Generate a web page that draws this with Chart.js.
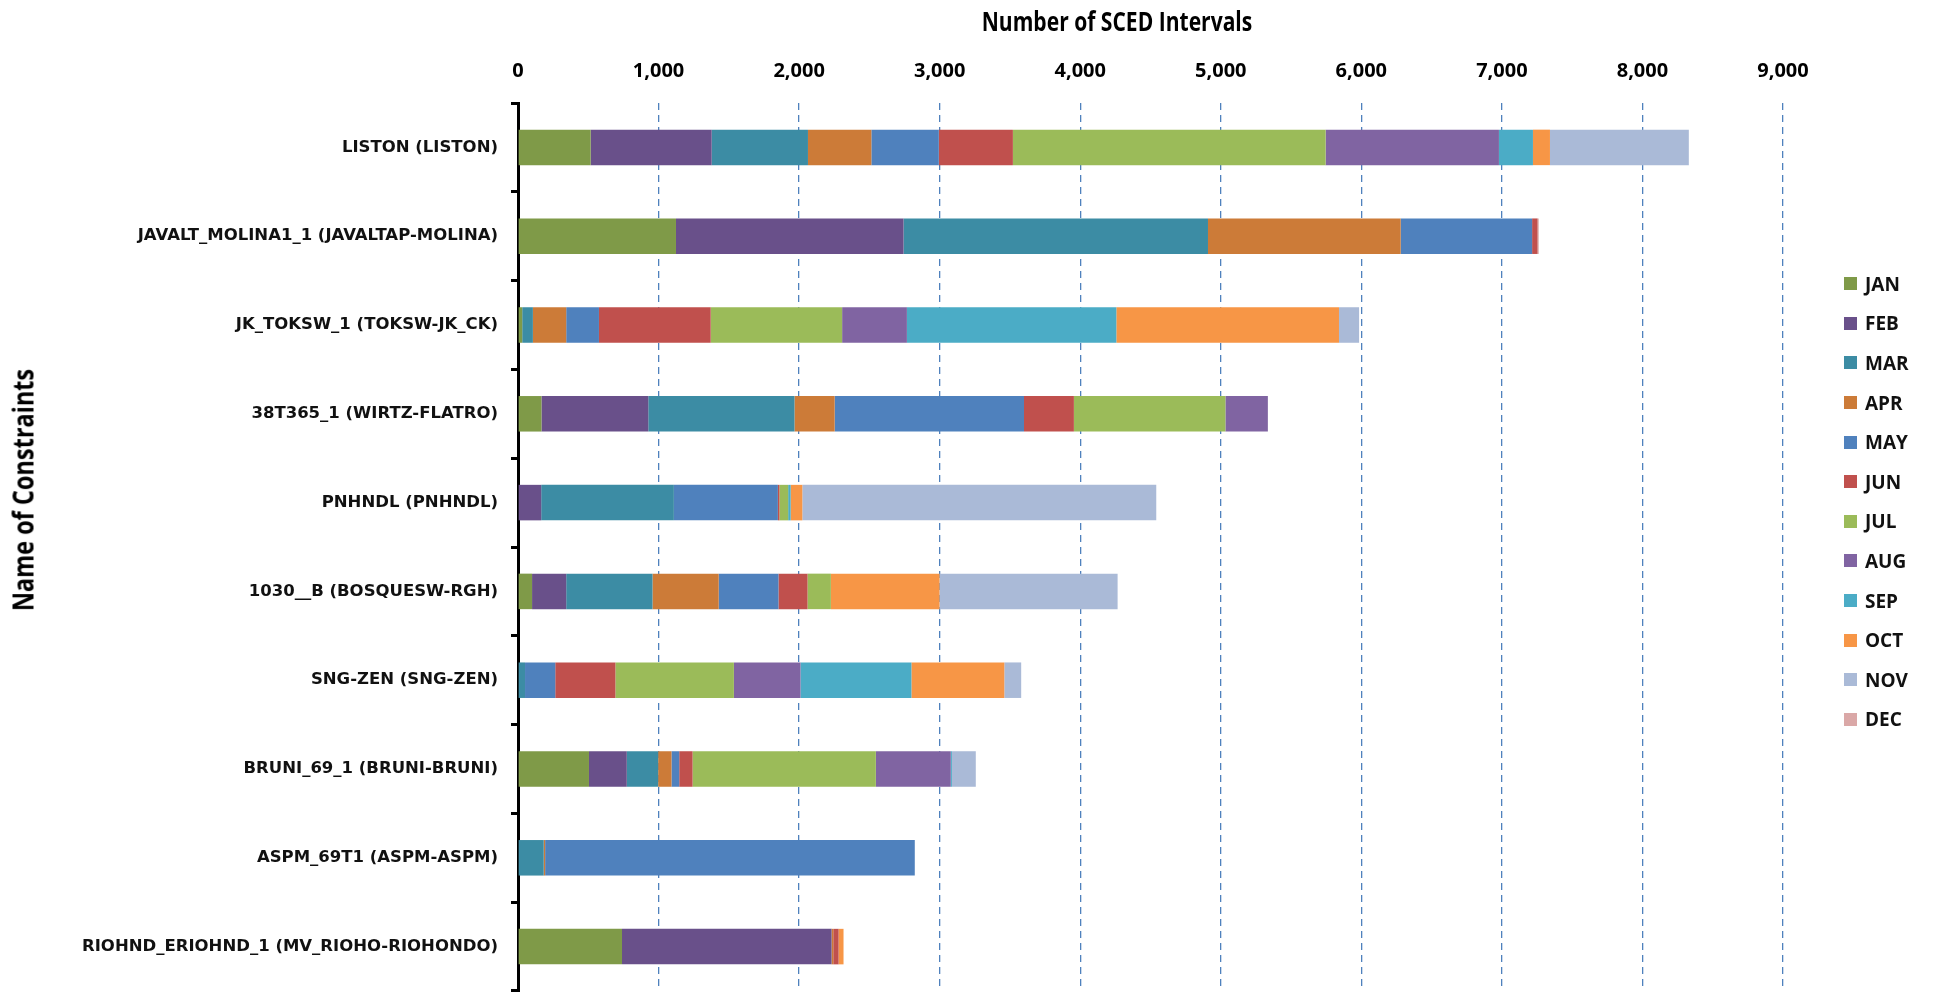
<!DOCTYPE html>
<html>
<head>
<meta charset="utf-8">
<script src="https://cdn.jsdelivr.net/npm/chart.js@4.4.1/dist/chart.umd.min.js"></script>
<style>
  html, body { margin: 0; padding: 0; background: #fff; overflow: hidden; }
  #wrap { position: relative; width: 1934px; height: 998px; }
  #legend { position: absolute; left: 1844px; top: 264px; font-family: 'Open Sans', sans-serif; font-weight: 700; font-size: 19px; color: #111; }
  .lg-item { height: 39.6px; display: flex; align-items: center; }
  .lg-box { width: 13px; height: 13px; margin-right: 8px; }
  .axis-title { position: absolute; font-family: 'Open Sans', sans-serif; font-weight: 700; color: #000; white-space: nowrap; line-height: 1; }
  #xTitle { left: 1117px; top: 21px; font-size: 26px; transform: translate(-50%, -50%) scaleX(0.81); }
  #yTitle { left: 22px; top: 490px; font-size: 29px; transform: translate(-50%, -50%) rotate(-90deg) scaleX(0.81); }
</style>
</head>
<body>
<div id="wrap">
  <canvas id="chart" width="1934" height="998"></canvas>
  <div id="xTitle" class="axis-title">Number of SCED Intervals</div>
  <div id="yTitle" class="axis-title">Name of Constraints</div>
  <div id="legend"></div>
</div>
<script>
// ── Data ──────────────────────────────────────────────
const constraints = [
  'LISTON (LISTON)',
  'JAVALT_MOLINA1_1 (JAVALTAP-MOLINA)',
  'JK_TOKSW_1 (TOKSW-JK_CK)',
  '38T365_1 (WIRTZ-FLATRO)',
  'PNHNDL (PNHNDL)',
  '1030__B (BOSQUESW-RGH)',
  'SNG-ZEN (SNG-ZEN)',
  'BRUNI_69_1 (BRUNI-BRUNI)',
  'ASPM_69T1 (ASPM-ASPM)',
  'RIOHND_ERIOHND_1 (MV_RIOHO-RIOHONDO)'
];

const months = ['JAN', 'FEB', 'MAR', 'APR', 'MAY', 'JUN', 'JUL', 'AUG', 'SEP', 'OCT', 'NOV', 'DEC'];

const janVals = [517, 1124, 30, 167, 0, 100, 0, 505, 0, 740];
const febVals = [861, 1619, 0, 760, 165, 243, 0, 269, 0, 1491];
const marVals = [685, 2166, 76, 1040, 944, 614, 50, 223, 183, 0];
const aprVals = [451, 1371, 237, 286, 0, 471, 0, 95, 10, 12];
const mayVals = [480, 935, 233, 1347, 740, 425, 215, 55, 2630, 0];
const junVals = [527, 39, 795, 355, 11, 207, 428, 95, 0, 38];
const julVals = [2225, 0, 935, 1078, 62, 166, 843, 1304, 0, 0];
const augVals = [1233, 0, 461, 302, 0, 0, 474, 533, 0, 0];
const sepVals = [242, 0, 1490, 0, 18, 0, 789, 8, 0, 0];
const octVals = [121, 0, 1584, 0, 83, 773, 661, 0, 0, 35];
const novVals = [988, 0, 143, 0, 2518, 1267, 120, 170, 0, 0];
const decVals = [0, 8, 0, 0, 0, 0, 0, 0, 0, 0];

const xTicks = [0, 1000, 2000, 3000, 4000, 5000, 6000, 7000, 8000, 9000];

const monthColors = ['#7F9A48', '#69508A', '#3C8CA4', '#CC7B38', '#4F81BD', '#C0504D',
                     '#9BBB59', '#8064A2', '#4BACC6', '#F79646', '#AABAD7', '#DAA8A7'];

const monthVals = [janVals, febVals, marVals, aprVals, mayVals, junVals,
                   julVals, augVals, sepVals, octVals, novVals, decVals];

// ── Chart ─────────────────────────────────────────────
const datasets = months.map((m, i) => ({
  label: m,
  data: monthVals[i],
  backgroundColor: monthColors[i],
  borderWidth: 0,
  barPercentage: 0.40,
  categoryPercentage: 1.0,
}));

const chart = new Chart(document.getElementById('chart'), {
  type: 'bar',
  data: { labels: constraints, datasets },
  options: {
    responsive: false,
    animation: false,
    indexAxis: 'y',
    layout: { padding: { left: 0, right: 151, top: 0, bottom: 7 } },
    plugins: {
      legend: { display: false },
      tooltip: { enabled: false }
    },
    scales: {
      x: {
        position: 'top',
        stacked: true,
        min: 0, max: 9000,
        afterBuildTicks: axis => { axis.ticks = xTicks.map(v => ({ value: v })); },
        afterFit: axis => { axis.height = 103; },
        ticks: {
          padding: 20,
          color: '#000',
          font: { family: 'Open Sans', size: 20, weight: 'bold' },
          callback: v => v.toLocaleString('en-US')
        },
        grid: {
          drawTicks: false,
          color: ctx => ctx.tick && ctx.tick.value === 0 ? 'rgba(0,0,0,0)' : '#4F81BD',
          lineWidth: 1.3
        },
        border: { display: false, dash: [7, 5] }
      },
      y: {
        stacked: true,
        afterFit: axis => {
          axis.width = 518;
          axis.paddingTop = 0;
          axis.paddingBottom = 0;
        },
        ticks: {
          padding: 13,
          color: '#111',
          font: { family: 'DejaVu Sans', size: 16.5, weight: 'bold' }
        },
        grid: {
          drawOnChartArea: false,
          drawTicks: true,
          tickLength: 7,
          tickWidth: 3,
          tickColor: '#000'
        },
        border: { display: true, color: '#000', width: 3 }
      }
    }
  }
});

// ── HTML legend ───────────────────────────────────────
document.getElementById('legend').innerHTML = chart.data.datasets.map(ds => `
  <div class="lg-item"><span class="lg-box" style="background:${ds.backgroundColor}"></span>${ds.label}</div>`
).join('');
</script>
</body>
</html>
